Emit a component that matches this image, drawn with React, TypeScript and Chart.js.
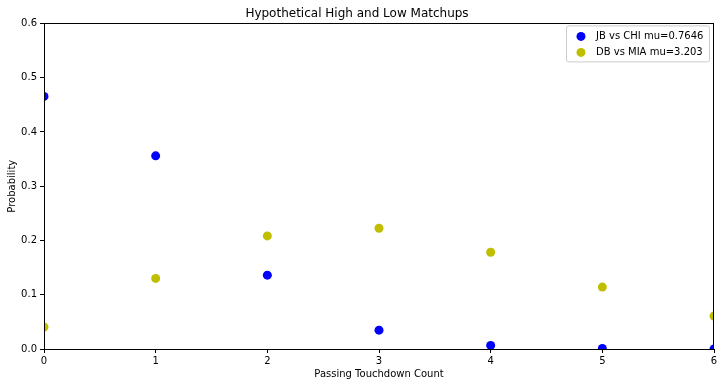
import React, { useEffect, useRef } from "react";
import { Chart, registerables } from "chart.js";

Chart.register(...registerables);

const xValues = [0, 1, 2, 3, 4, 5, 6];
const jbValues = [0.4655, 0.3559, 0.1361, 0.0347, 0.0066, 0.001, 0.0001];
const dbValues = [0.0406, 0.1301, 0.2084, 0.2225, 0.1782, 0.1141, 0.0609];
const seriesLabels = ["JB vs CHI mu=0.7646", "DB vs MIA mu=3.203"];
const seriesColors = ["#0000ff", "#bfbf00"];
const chartTitle = "Hypothetical High and Low Matchups";
const xTitle = "Passing Touchdown Count";
const yTitle = "Probability";

const FONT = "'DejaVu Sans', sans-serif";

const clipPlugin = {
  id: "areaClip",
  beforeDatasetsDraw(chart: any) {
    const { ctx, chartArea } = chart;
    ctx.save();
    ctx.beginPath();
    ctx.rect(
      chartArea.left,
      chartArea.top,
      chartArea.right - chartArea.left,
      chartArea.bottom - chartArea.top
    );
    ctx.clip();
  },
  afterDatasetsDraw(chart: any) {
    chart.ctx.restore();
  },
};

const framePlugin = {
  id: "frame",
  afterDatasetsDraw(chart: any) {
    const { ctx, chartArea } = chart;
    ctx.save();
    ctx.strokeStyle = "#000";
    ctx.lineWidth = 1;
    ctx.strokeRect(
      Math.round(chartArea.left) + 0.5,
      Math.round(chartArea.top) + 0.5,
      Math.round(chartArea.right - chartArea.left) - 1,
      Math.round(chartArea.bottom - chartArea.top)
    );
    ctx.restore();
  },
};

const legendPlugin = {
  id: "innerLegend",
  afterDraw(chart: any) {
    const { ctx, chartArea } = chart;
    ctx.save();
    ctx.font = `10px ${FONT}`;
    const w = 143;
    const h = 36;
    const x = chartArea.right - w - 5;
    const y = chartArea.top + 2;
    ctx.fillStyle = "rgba(255,255,255,0.8)";
    ctx.strokeStyle = "#cccccc";
    ctx.lineWidth = 1;
    ctx.beginPath();
    if ((ctx as any).roundRect) {
      (ctx as any).roundRect(x + 0.5, y + 0.5, w, h, 2);
    } else {
      ctx.rect(x + 0.5, y + 0.5, w, h);
    }
    ctx.fill();
    ctx.stroke();
    seriesLabels.forEach((lab, i) => {
      const cy = y + 11 + i * 16;
      ctx.fillStyle = seriesColors[i];
      ctx.beginPath();
      ctx.arc(x + 15, cy, 4.5, 0, Math.PI * 2);
      ctx.fill();
      ctx.fillStyle = "#000";
      ctx.textBaseline = "middle";
      ctx.textAlign = "left";
      ctx.fillText(lab, x + 30, cy);
    });
    ctx.restore();
  },
};

export default function App() {
  const ref = useRef<HTMLCanvasElement | null>(null);
  useEffect(() => {
    document.body.style.margin = "0";
    const canvas = ref.current;
    if (!canvas) return;
    const chart = new Chart(canvas, {
      type: "scatter",
      data: {
        datasets: [jbValues, dbValues].map((vals, i) => ({
          label: seriesLabels[i],
          data: xValues.map((x, j) => ({ x, y: vals[j] })),
          backgroundColor: seriesColors[i],
          borderColor: seriesColors[i],
          pointRadius: 4.5,
          pointHoverRadius: 4.5,
          borderWidth: 0,
          clip: 0,
        })),
      },
      options: {
        animation: false,
        responsive: false,
        devicePixelRatio: 1,
        layout: { padding: { left: 0, right: 10, top: 0, bottom: 0 } },
        plugins: {
          legend: { display: false },
          tooltip: { enabled: false },
          title: {
            display: true,
            text: chartTitle,
            color: "#000",
            font: { family: FONT, size: 12, weight: "normal" },
            padding: { top: 7, bottom: 2 },
          },
        },
        scales: {
          x: {
            type: "linear",
            min: 0,
            max: 6,
            ticks: {
              stepSize: 1,
              color: "#000",
              font: { family: FONT, size: 10 },
              padding: 2,
              maxRotation: 0,
            },
            grid: {
              display: true,
              drawOnChartArea: false,
              drawTicks: true,
              tickLength: 4,
              color: "#000",
            },
            border: { display: true, color: "#000" },
            title: {
              display: true,
              text: xTitle,
              color: "#000",
              font: { family: FONT, size: 10 },
              padding: { top: 0, bottom: 7 },
            },
            afterFit(scale: any) {
              scale.height = 38;
            },
          },
          y: {
            min: 0,
            max: 0.6,
            ticks: {
              stepSize: 0.1,
              color: "#000",
              font: { family: FONT, size: 10 },
              padding: 3,
              callback: (v: any) => Number(v).toFixed(1),
            },
            grid: {
              display: true,
              drawOnChartArea: false,
              drawTicks: true,
              tickLength: 4,
              color: "#000",
            },
            border: { display: true, color: "#000" },
            title: {
              display: true,
              text: yTitle,
              color: "#000",
              font: { family: FONT, size: 10 },
              padding: { top: 6, bottom: 0 },
            },
            afterFit(scale: any) {
              scale.width = 44;
            },
          },
        },
      },
      plugins: [clipPlugin, framePlugin, legendPlugin],
    });
    return () => chart.destroy();
  }, []);
  return (
    <div style={{ width: 724, height: 387 }}>
      <canvas ref={ref} width={724} height={387} style={{ display: "block" }} />
    </div>
  );
}
